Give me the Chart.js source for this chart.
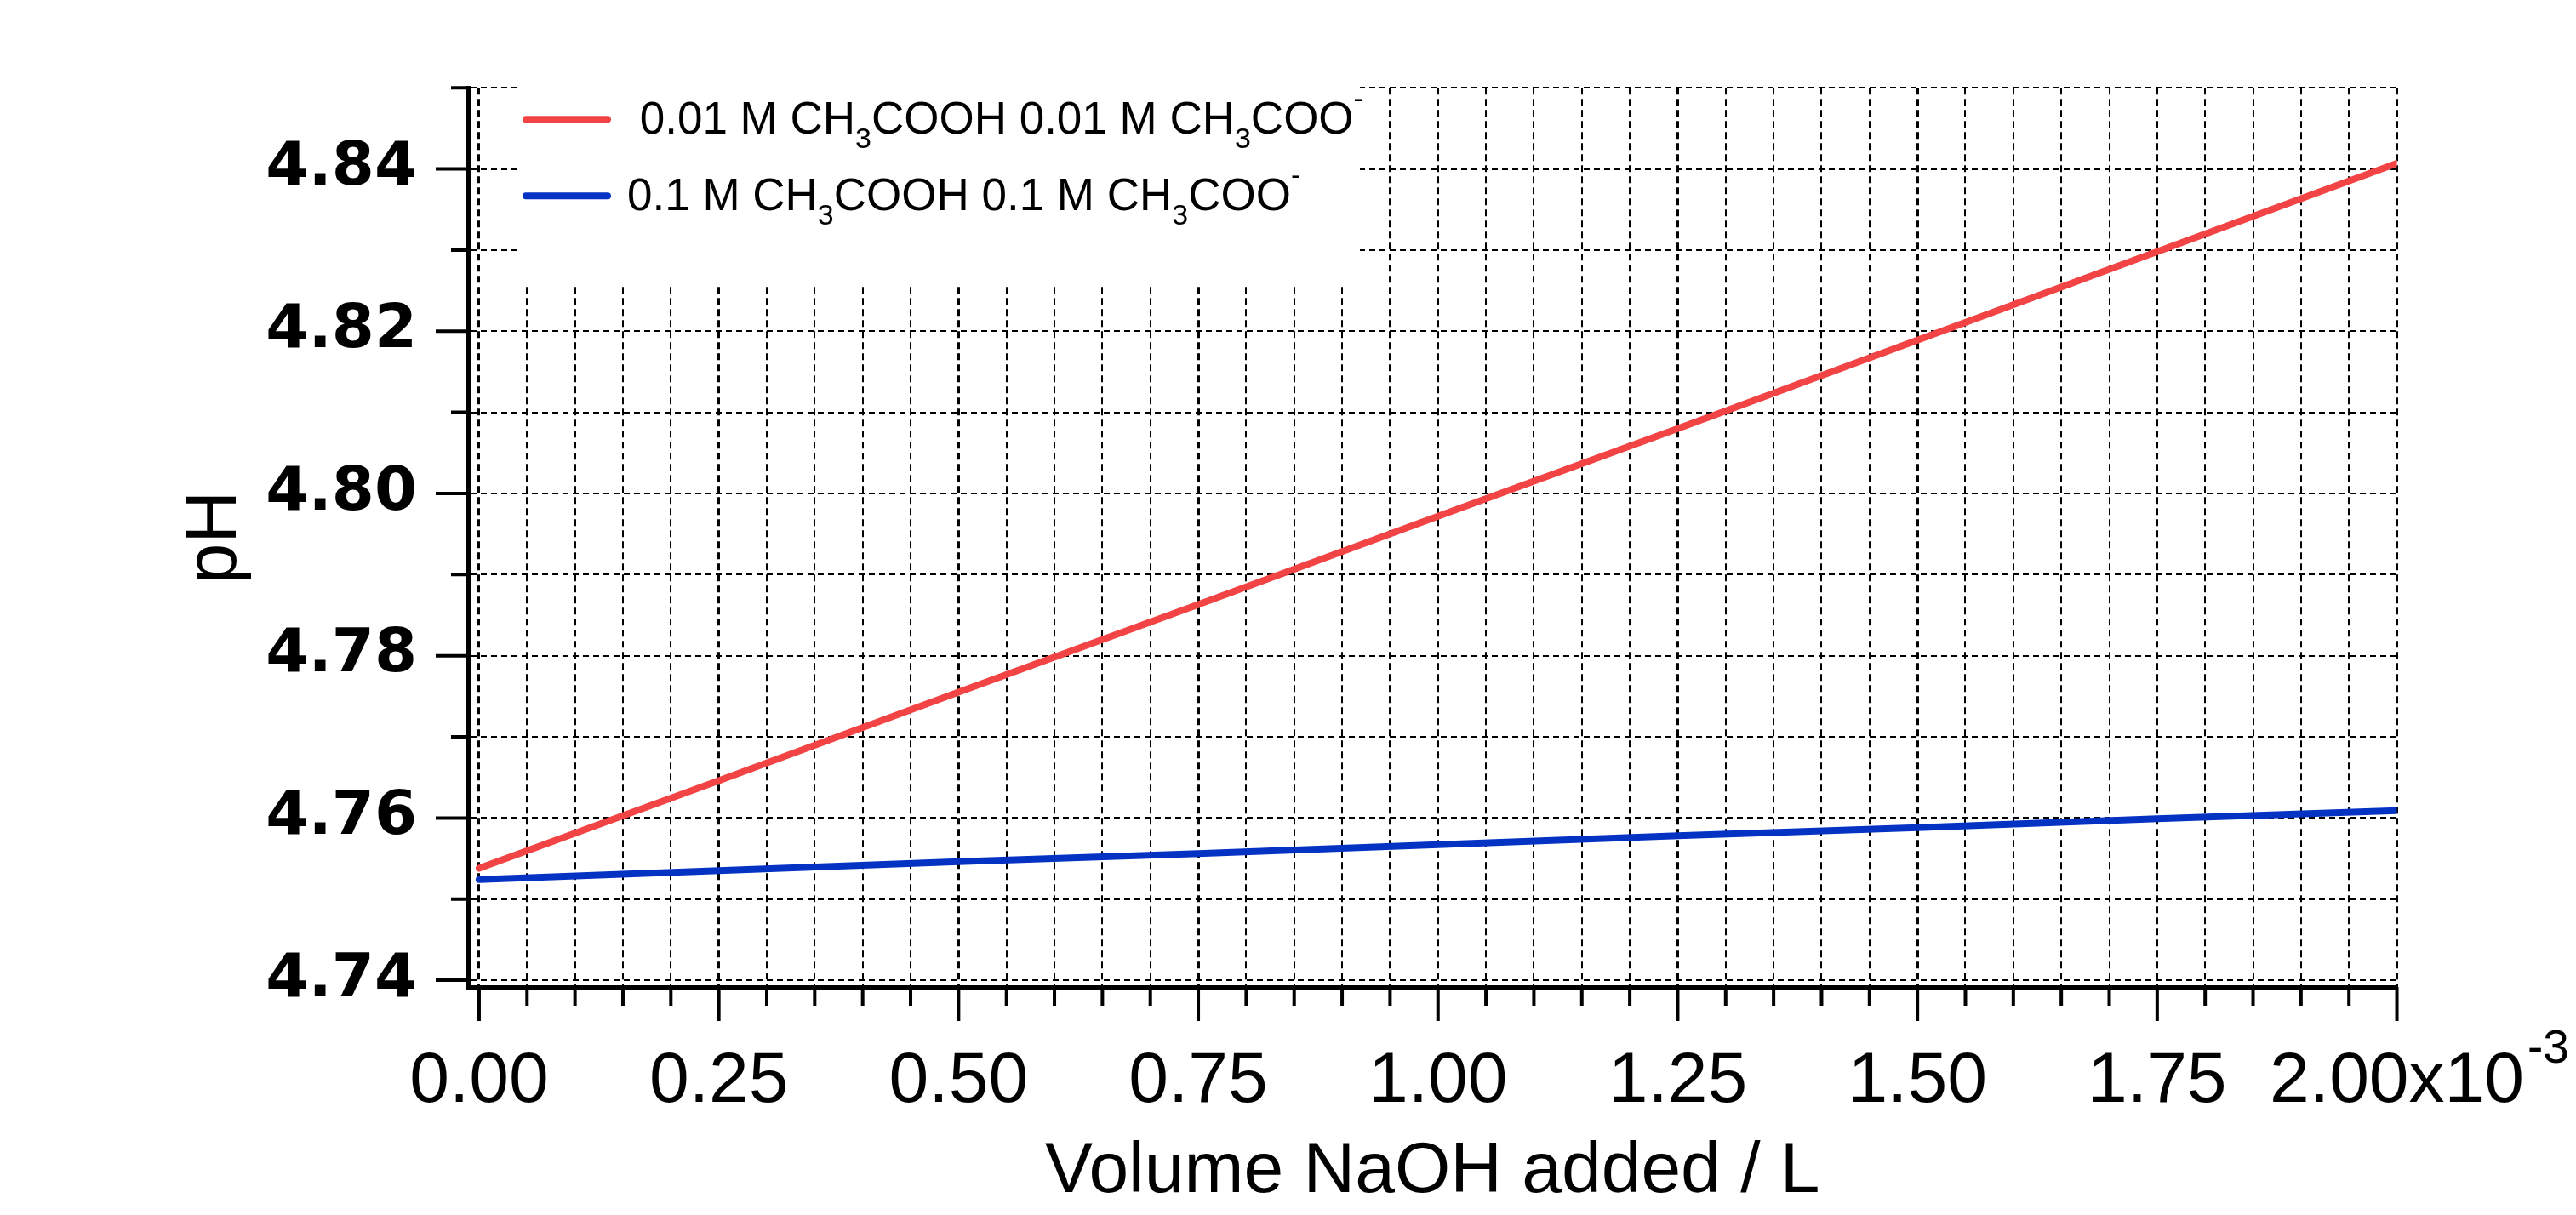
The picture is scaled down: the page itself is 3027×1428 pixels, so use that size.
<!DOCTYPE html>
<html>
<head>
<meta charset="utf-8">
<title>pH vs volume NaOH added</title>
<script src="https://cdn.jsdelivr.net/npm/chart.js@4.4.1/dist/chart.umd.min.js"></script>
<style>
  html, body { margin: 0; padding: 0; background: #fff; }
  canvas { display: block; }
</style>
</head>
<body>
<canvas id="ph-chart" width="3027" height="1428"></canvas>
<script>
// volume of NaOH added, in units of 1e-3 L
const volumes = [0, 0.25, 0.5, 0.75, 1.0, 1.25, 1.5, 1.75, 2.0];
const phDilute = [4.7538, 4.7646, 4.7755, 4.7863, 4.7972, 4.8080, 4.8189, 4.8298, 4.8407];
const phConc = [4.7524, 4.7535, 4.7546, 4.7556, 4.7567, 4.7578, 4.7588, 4.7599, 4.7609];

const seriesNames = [" 0.01 M CH3COOH 0.01 M CH3COO-", "0.1 M CH3COOH 0.1 M CH3COO-"];
const seriesColors = ["#f24444", "#0433c4"];
// legend text split in runs so the 3 can be a subscript and the - a superscript
const legendRuns = [
  [[" 0.01 M CH", ""], ["3", "sub"], ["COOH 0.01 M CH", ""], ["3", "sub"], ["COO", ""], ["-", "sup"]],
  [["0.1 M CH", ""], ["3", "sub"], ["COOH 0.1 M CH", ""], ["3", "sub"], ["COO", ""], ["-", "sup"]]
];

const xTicks = [0, 0.05, 0.1, 0.15, 0.2, 0.25, 0.3, 0.35, 0.4, 0.45, 0.5, 0.55, 0.6, 0.65, 0.7,
  0.75, 0.8, 0.85, 0.9, 0.95, 1.0, 1.05, 1.1, 1.15, 1.2, 1.25, 1.3, 1.35, 1.4, 1.45, 1.5,
  1.55, 1.6, 1.65, 1.7, 1.75, 1.8, 1.85, 1.9, 1.95, 2.0];
const xLabelTicks = [0, 0.25, 0.5, 0.75, 1.0, 1.25, 1.5, 1.75, 2.0];
const xTickLabels = ["0.00", "0.25", "0.50", "0.75", "1.00", "1.25", "1.50", "1.75", "2.00x10"];
const xExponent = "-3";

const yTicks = [4.74, 4.75, 4.76, 4.77, 4.78, 4.79, 4.80, 4.81, 4.82, 4.83, 4.84, 4.85];
const yLabelTicks = [4.74, 4.76, 4.78, 4.80, 4.82, 4.84];
const yTickLabels = ["4.74", "4.76", "4.78", "4.80", "4.82", "4.84"];

const xTitle = "Volume NaOH added / L";
const yTitle = "pH";

const X_FONT = 84;
const X_PAD = 61;

function findIndex(list, v) {
  return list.findIndex(u => Math.abs(u - v) < 1e-9);
}

function drawRuns(ctx, runs, x, baseline, size) {
  runs.forEach(([text, kind]) => {
    let dy = 0;
    if (kind === "sub") { ctx.font = Math.round(size * 0.65) + "px 'Liberation Sans', Arial"; dy = 17; }
    else if (kind === "sup") { ctx.font = Math.round(size * 0.65) + "px 'Liberation Sans', Arial"; dy = -30; }
    else ctx.font = size + "px 'Liberation Sans', Arial";
    ctx.fillText(text, x, baseline + dy);
    x += ctx.measureText(text).width;
  });
}

const decor = {
  id: "decor",
  afterDraw(chart) {
    const { ctx, chartArea, scales: { x, y } } = chart;
    ctx.save();

    // tick marks, long at labelled values
    ctx.strokeStyle = "#000";
    ctx.lineWidth = 4;
    ctx.beginPath();
    x.ticks.forEach(t => {
      const px = x.getPixelForValue(t.value);
      const len = findIndex(xLabelTicks, t.value) >= 0 ? 40 : 22;
      ctx.moveTo(px, chartArea.bottom);
      ctx.lineTo(px, chartArea.bottom + len);
    });
    y.ticks.forEach(t => {
      const py = y.getPixelForValue(t.value);
      const len = findIndex(yLabelTicks, t.value) >= 0 ? 38 : 20;
      ctx.moveTo(chartArea.left, py);
      ctx.lineTo(chartArea.left - len, py);
    });
    ctx.stroke();

    // exponent after the last x label
    ctx.fillStyle = "#000";
    ctx.font = X_FONT + "px 'Liberation Sans', Arial";
    const last = xTickLabels[xTickLabels.length - 1];
    const lastPx = x.getPixelForValue(xLabelTicks[xLabelTicks.length - 1]);
    const labelRight = lastPx + ctx.measureText(last).width / 2;
    const baseline = chartArea.bottom + X_PAD + X_FONT * 0.6 + X_FONT * 0.35;
    ctx.font = Math.round(X_FONT * 0.66) + "px 'Liberation Sans', Arial";
    ctx.textBaseline = "alphabetic";
    ctx.fillText(xExponent, labelRight + 4, baseline - 52);

    // legend box in the upper left of the plot
    ctx.fillStyle = "#fff";
    ctx.fillRect(chartArea.left + 57, chartArea.top - 4, 991, 234);
    chart.data.datasets.forEach((ds, i) => {
      const rowY = chartArea.top + 37 + i * 90;
      ctx.strokeStyle = ds.borderColor;
      ctx.lineWidth = 8;
      ctx.lineCap = "round";
      ctx.beginPath();
      ctx.moveTo(chartArea.left + 68, rowY);
      ctx.lineTo(chartArea.left + 164, rowY);
      ctx.stroke();
      ctx.fillStyle = "#000";
      drawRuns(ctx, legendRuns[i], chartArea.left + 187, rowY + 17, 53);
    });
    ctx.restore();
  }
};

const datasets = [phDilute, phConc].map((vals, i) => ({
  label: seriesNames[i],
  data: volumes.map((v, j) => ({ x: v, y: vals[j] })),
  borderColor: seriesColors[i],
  backgroundColor: seriesColors[i],
  borderWidth: 8,
  borderCapStyle: "round",
  pointRadius: 0,
  tension: 0,
  fill: false
}));

new Chart(document.getElementById("ph-chart"), {
  type: "line",
  data: { datasets },
  plugins: [decor],
  options: {
    responsive: false,
    animation: false,
    layout: { padding: { left: 150, top: 95, right: 199, bottom: 0 } },
    plugins: { legend: { display: false }, tooltip: { enabled: false } },
    scales: {
      x: {
        type: "linear",
        min: -0.0115,
        max: 2.0,
        afterBuildTicks: s => { s.ticks = xTicks.map(v => ({ value: v })); },
        afterFit: s => { s.height = 268; },
        ticks: {
          autoSkip: false,
          maxRotation: 0,
          padding: X_PAD,
          color: "#000",
          font: { family: "'Liberation Sans', Arial", size: X_FONT },
          callback: v => { const i = findIndex(xLabelTicks, v); return i >= 0 ? xTickLabels[i] : ""; }
        },
        grid: {
          color: "#000",
          lineWidth: c => (c.tick && findIndex(xLabelTicks, c.tick.value) >= 0 ? 3 : 2),
          drawTicks: false
        },
        border: { display: true, color: "#000", width: 5, dash: [8, 5] },
        title: {
          display: true,
          text: xTitle,
          color: "#000",
          font: { family: "'Liberation Sans', Arial", size: 84 },
          padding: { top: 0, bottom: 0 }
        }
      },
      y: {
        type: "linear",
        min: 4.73917,
        max: 4.85,
        afterBuildTicks: s => { s.ticks = yTicks.map(v => ({ value: v })); },
        afterFit: s => { s.width = 400; },
        ticks: {
          autoSkip: false,
          padding: 60,
          color: "#000",
          font: { family: "'DejaVu Sans'", weight: "bold", size: 72 },
          callback: v => { const i = findIndex(yLabelTicks, v); return i >= 0 ? yTickLabels[i] : ""; }
        },
        grid: { color: "#000", lineWidth: 2, drawTicks: false },
        border: { display: true, color: "#000", width: 5, dash: [7, 5] },
        title: {
          display: true,
          text: yTitle,
          color: "#000",
          font: { family: "'Liberation Sans', Arial", size: 86 },
          padding: { top: 52, bottom: 0 }
        }
      }
    }
  }
});
</script>
</body>
</html>
